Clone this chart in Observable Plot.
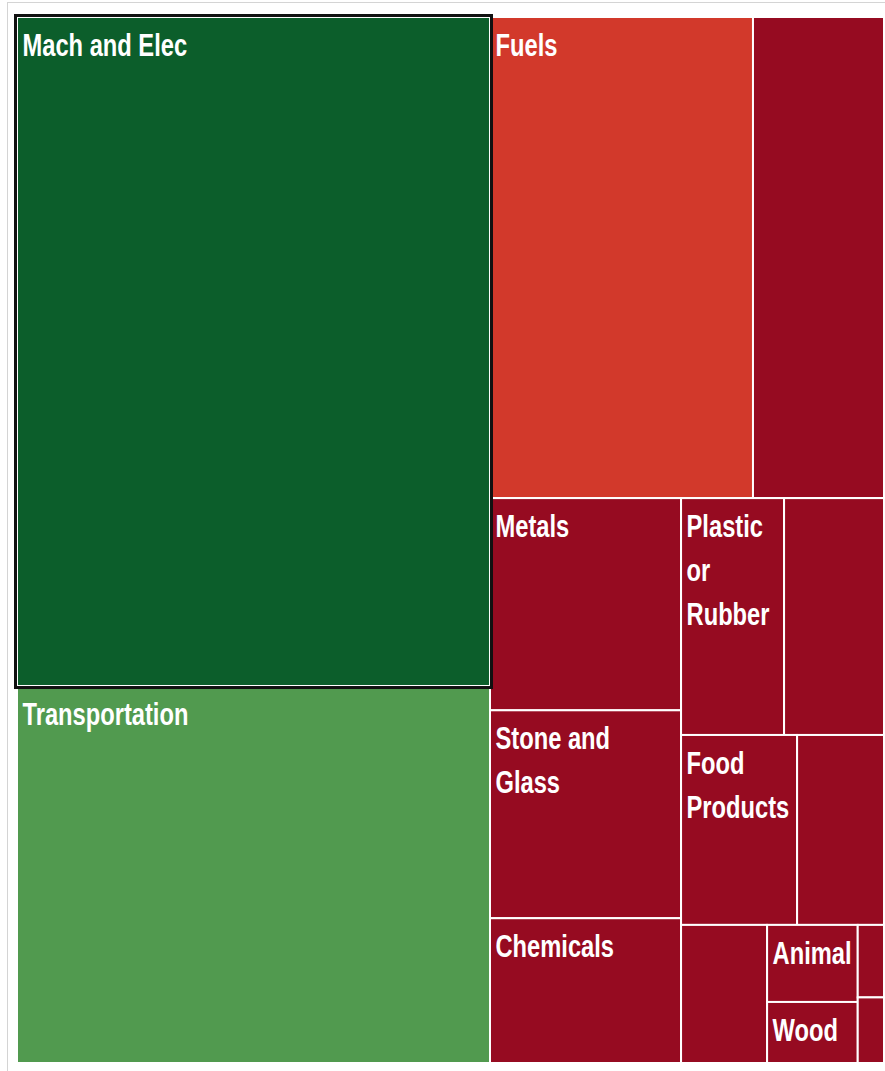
<!DOCTYPE html>
<html>
<head>
<meta charset="utf-8">
<script src="https://cdn.jsdelivr.net/npm/d3@7"></script>
<script src="https://cdn.jsdelivr.net/npm/@observablehq/plot@0.6"></script>
<style>
  html, body { margin: 0; padding: 0; background: #fff; }
  #wrap { position: relative; width: 885px; height: 1071px; overflow: hidden; }
  #frame { position: absolute; left: 7px; top: 2px; width: 900px; height: 1100px; border: 1px solid #d4d4d4; box-sizing: border-box; }
  #chart { position: absolute; left: 0; top: 0; }
</style>
</head>
<body>
<div id="wrap"><div id="frame"></div><div id="chart"></div></div>
<script>
// Product categories (share of trade, %)
const categories = [
  "Mach and Elec", "Transportation",
  "Fuels", "Minerals",
  "Metals", "Stone and Glass", "Chemicals",
  "Plastic or Rubber", "Textiles",
  "Food Products", "Vegetable Products",
  "Instruments", "Animal", "Wood", "Footwear", "Hides"
];
const shares = [
  34.89, 19.66,
  13.95, 6.95,
  4.47, 4.38, 3.05,
  2.69, 2.61,
  2.43, 1.82,
  1.31, 0.77, 0.61, 0.21, 0.19
];
// Label shown in each cell ("" = no label drawn)
const labels = [
  "Mach and Elec", "Transportation",
  "Fuels", "",
  "Metals", "Stone and\nGlass", "Chemicals",
  "Plastic\nor\nRubber", "",
  "Food\nProducts", "",
  "", "Animal", "Wood", "", ""
];
// Nesting of the tiles (group path of each category)
const groups = [
  "a", "a",
  "b/top", "b/top",
  "b/rest/c1", "b/rest/c1", "b/rest/c1",
  "b/rest/c2/r1", "b/rest/c2/r1",
  "b/rest/c2/r2", "b/rest/c2/r2",
  "b/rest/c2/r3", "b/rest/c2/r3/s1", "b/rest/c2/r3/s1", "b/rest/c2/r3/s2", "b/rest/c2/r3/s2"
];
const highlighted = ["Mach and Elec"];

const palette = {
  "Mach and Elec": "#0c5e2b",
  "Transportation": "#519a4f",
  "Fuels": "#d2392b"
};
const otherColor = "#960b21";

// Build nested tree in order of first appearance
const rootData = {name: "root", children: []};
categories.forEach((name, i) => {
  let node = rootData;
  for (const seg of groups[i].split("/")) {
    let child = node.children.find(c => c.name === seg && c.children);
    if (!child) { child = {name: seg, children: []}; node.children.push(child); }
    node = child;
  }
  node.children.push({name, value: shares[i], label: labels[i]});
});

const root = d3.hierarchy(rootData).sum(d => d.value || 0);
d3.treemap().tile(d3.treemapSliceDice).size([1, 1])(root);

const cells = root.leaves().map(d => ({
  name: d.data.name, label: d.data.label, value: d.data.value,
  x0: d.x0, x1: d.x1, y0: d.y0, y1: d.y1
}));

const chart = Plot.plot({
  width: 885,
  height: 1071,
  marginLeft: 17,
  marginRight: 1,
  marginTop: 17,
  marginBottom: 8,
  x: {domain: [0, 1], axis: null},
  y: {domain: [0, 1], reverse: true, axis: null},
  color: {domain: categories, range: categories.map(c => palette[c] || otherColor)},
  marks: [
    Plot.rect(cells, {x1: "x0", x2: "x1", y1: "y0", y2: "y1", fill: "name", stroke: "#ffffff", strokeWidth: 2, title: d => `${d.name}: ${d.value}%`}),
    Plot.rect(cells.filter(d => highlighted.includes(d.name)), {x1: "x0", x2: "x1", y1: "y0", y2: "y1", fill: "none", stroke: "#111111", strokeWidth: 3, inset: -1.5}),
    Plot.text(cells.filter(d => d.label), {
      x: "x0", y: "y0", text: "label",
      textAnchor: "start", lineAnchor: "top",
      dx: 5, dy: 7, lineHeight: 1.42,
      fill: "white", fontSize: 31, fontWeight: "bold",
      fontFamily: "Liberation Sans, Arial, sans-serif"
    })
  ]
});

// condense the labels horizontally, like the narrow typeface of the original
chart.querySelectorAll('g[aria-label="text"] text').forEach(t => {
  const tr = t.getAttribute("transform") || "";
  t.setAttribute("transform", tr + " scale(0.765,1)");
});

document.getElementById("chart").appendChild(chart);
</script>
</body>
</html>
